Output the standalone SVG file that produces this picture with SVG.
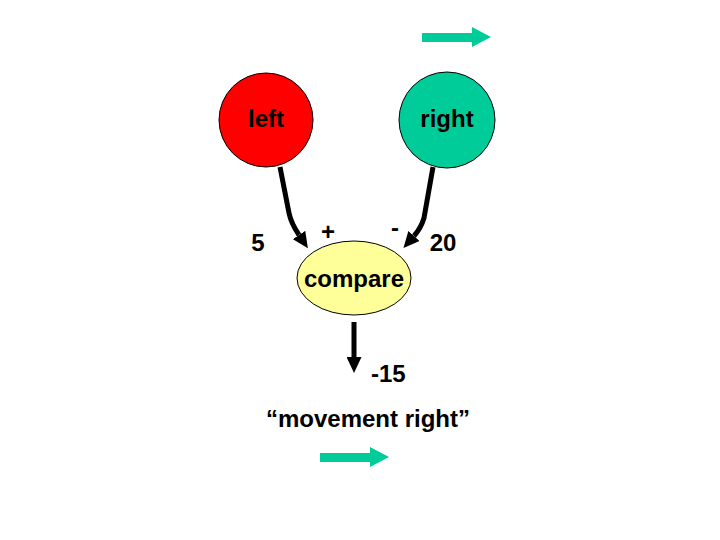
<svg xmlns="http://www.w3.org/2000/svg" width="720" height="540" viewBox="0 0 720 540">
<style>
text{font-family:"Liberation Sans",Arial,sans-serif;font-weight:bold;font-size:24px;fill:#000}
.c{text-anchor:middle}
.node{stroke:#000;stroke-width:1}
.conn{fill:none;stroke:#000;stroke-width:5;stroke-linejoin:round}
.teal{fill:#00CC99}
</style>
<defs>
<marker id="head" markerUnits="userSpaceOnUse" markerWidth="17" markerHeight="15" refX="0" refY="7.5" orient="auto">
<path d="M0,0 L16,7.5 L0,15 Z" fill="#000"/>
</marker>
</defs>
<rect width="720" height="540" fill="#fff"/>
<g id="left">
<circle class="node" cx="266" cy="120" r="47" fill="#FF0000"/>
<text class="c" x="266" y="127">left</text>
</g>
<g id="right">
<circle class="node" cx="447" cy="120" r="48" fill="#00CC99"/>
<text class="c" x="447" y="127">right</text>
</g>
<g id="compare">
<ellipse class="node" cx="354" cy="278" rx="57" ry="37" fill="#FFFF99"/>
<text class="c" x="354" y="287">compare</text>
</g>
<g id="connectors">
<path class="conn" d="M280,167 L289,213 Q291,223 299,235" marker-end="url(#head)"/>
<path class="conn" d="M433,167 L424,218 Q421,228 414,236" marker-end="url(#head)"/>
<path class="conn" d="M354,322 L354,357" marker-end="url(#head)"/>
</g>
<g id="labels">
<text class="c" x="258" y="251">5</text>
<text class="c" x="328" y="240">+</text>
<text class="c" x="395" y="236">-</text>
<text class="c" x="443" y="251">20</text>
<text x="371" y="382">-15</text>
<text class="c" x="368" y="427">“movement right”</text>
</g>
<g id="arrows">
<polygon class="teal" points="422,33 472,33 472,27 491,37 472,47 472,42 422,42"/>
<polygon class="teal" points="320,453 370,453 370,447 389,457 370,467 370,462 320,462"/>
</g>
</svg>
